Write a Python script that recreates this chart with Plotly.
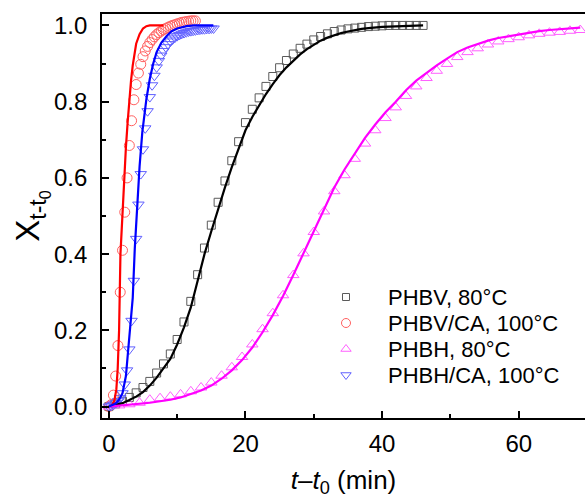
import plotly.graph_objects as go

# ---------------- data ----------------
# PHBV, 80 °C
t_phbv = list(range(0, 47))
x_phbv = [0.000, 0.007, 0.014, 0.024, 0.036, 0.050, 0.066, 0.088, 0.112, 0.138,
          0.176, 0.222, 0.276, 0.346, 0.416, 0.476, 0.536, 0.592, 0.645, 0.695,
          0.745, 0.780, 0.810, 0.840, 0.866, 0.889, 0.908, 0.925, 0.940, 0.951,
          0.962, 0.971, 0.978, 0.984, 0.988, 0.991, 0.993, 0.995, 0.997, 0.998,
          0.999, 1.000, 1.000, 1.000, 1.000, 1.000, 1.000]
fit_phbv = [0.000, 0.004, 0.009, 0.017, 0.026, 0.038, 0.055, 0.076, 0.100, 0.125,
            0.163, 0.208, 0.260, 0.330, 0.400, 0.460, 0.520, 0.575, 0.628, 0.678,
            0.725, 0.760, 0.790, 0.820, 0.846, 0.870, 0.890, 0.908, 0.924, 0.938,
            0.950, 0.960, 0.968, 0.975, 0.980, 0.984, 0.988, 0.991, 0.993, 0.995,
            0.996, 0.997, 0.998, 0.999, 0.999, 1.000, 1.000]

# PHBV/CA, 100 °C
t_phbvca = [0, 0.33, 0.67, 1.0, 1.33, 1.67, 2.0, 2.33, 2.67, 3.0, 3.33, 3.67, 4.0,
            4.33, 4.67, 5.0, 5.33, 5.67, 6.0, 6.33, 6.67, 7.0, 7.33, 7.67, 8.0,
            8.33, 8.67, 9.0, 9.33, 9.67, 10.0, 10.33, 10.67, 11.0, 11.33, 11.67,
            12.0, 12.33, 12.67]
x_phbvca = [0.0, 0.005, 0.03, 0.08, 0.16, 0.30, 0.41, 0.51, 0.60, 0.685, 0.75,
            0.805, 0.845, 0.875, 0.898, 0.918, 0.933, 0.945, 0.955, 0.963, 0.970,
            0.976, 0.981, 0.985, 0.989, 0.992, 0.995, 0.998, 1.000, 1.002, 1.004,
            1.006, 1.008, 1.009, 1.010, 1.011, 1.012, 1.012, 1.012]
tf_phbvca = [0, 0.5, 0.8, 1.1, 1.3, 1.5, 1.7, 1.9, 2.1, 2.3, 2.5, 2.75, 3.0, 3.25,
             3.5, 3.75, 4.0, 4.5, 5.0, 5.5, 6.0, 7.0, 8.0]
fit_phbvca = [0, 0.004, 0.015, 0.045, 0.10, 0.20, 0.40, 0.48, 0.55, 0.615, 0.68,
              0.745, 0.81, 0.855, 0.895, 0.93, 0.952, 0.977, 0.992, 0.998, 1.0,
              1.0, 1.0]

# PHBH, 80 °C
t_phbh = [0, 1.5, 3, 4.5, 6, 7.5, 9, 10.5, 12, 13.5, 15, 16.5, 18, 19.5, 21, 22.5,
          24, 25.5, 27, 28.5, 30, 31.5, 33, 34.5, 36, 37.5, 39, 40.5, 42, 43.5, 45,
          46.5, 48, 49.5, 51, 52.5, 54, 55.5, 57, 58.5, 60, 61.5, 63, 64.5, 66,
          67.5, 69]
x_phbh = [0.000, 0.003, 0.006, 0.010, 0.018, 0.022, 0.026, 0.032, 0.040, 0.050,
          0.063, 0.081, 0.103, 0.130, 0.163, 0.203, 0.245, 0.292, 0.345, 0.402,
          0.458, 0.512, 0.565, 0.607, 0.650, 0.690, 0.725, 0.757, 0.785, 0.815,
          0.840, 0.862, 0.881, 0.899, 0.917, 0.930, 0.940, 0.950, 0.958, 0.964,
          0.969, 0.974, 0.978, 0.981, 0.983, 0.986, 0.988]
fit_phbh = [0.000, 0.002, 0.004, 0.007, 0.010, 0.014, 0.018, 0.024, 0.032, 0.042,
            0.055, 0.073, 0.095, 0.122, 0.155, 0.195, 0.240, 0.290, 0.345, 0.402,
            0.460, 0.518, 0.575, 0.622, 0.665, 0.705, 0.740, 0.772, 0.800, 0.830,
            0.855, 0.876, 0.895, 0.913, 0.930, 0.942, 0.952, 0.960, 0.967, 0.972,
            0.977, 0.981, 0.985, 0.988, 0.990, 0.992, 0.994]

# PHBH/CA, 100 °C
t_phbhca = [0, 0.33, 0.67, 1.0, 1.33, 1.67, 2.0, 2.33, 2.67, 3.0, 3.33, 3.67, 4.0,
            4.33, 4.67, 5.0, 5.33, 5.67, 6.0, 6.33, 6.67, 7.0, 7.33, 7.67, 8.0,
            8.33, 8.67, 9.0, 9.33, 9.67, 10.0, 10.33, 10.67, 11.0, 11.33, 11.67,
            12.0, 12.33, 12.67, 13.0, 13.33, 13.67, 14.0, 14.33, 14.67, 15.0, 15.33]
x_phbhca = [0.0, 0.002, 0.005, 0.009, 0.014, 0.022, 0.035, 0.058, 0.095, 0.15,
            0.225, 0.33, 0.44, 0.53, 0.61, 0.675, 0.73, 0.775, 0.812, 0.843, 0.868,
            0.89, 0.907, 0.921, 0.933, 0.943, 0.951, 0.958, 0.963, 0.968, 0.972,
            0.975, 0.978, 0.980, 0.982, 0.984, 0.985, 0.986, 0.987, 0.988, 0.989,
            0.990, 0.990, 0.991, 0.991, 0.992, 0.992]
tf_phbhca = [0, 0.5, 1.0, 1.5, 2.0, 2.5, 3.0, 3.5, 3.8, 4.2, 4.5, 4.9, 5.5, 6.0,
             6.5, 7.0, 7.7, 8.5, 9.2, 10.0, 11.4, 12.5, 15.3]
fit_phbhca = [0, 0.003, 0.008, 0.018, 0.035, 0.08, 0.175, 0.285, 0.415, 0.546,
              0.63, 0.72, 0.807, 0.86, 0.90, 0.93, 0.955, 0.973, 0.985, 0.992,
              0.998, 1.0, 1.0]

names = ["PHBV, 80°C", "PHBV/CA, 100°C", "PHBH, 80°C", "PHBH/CA, 100°C"]
x_ticks = [0, 20, 40, 60]
y_ticks = [0.0, 0.2, 0.4, 0.6, 0.8, 1.0]

# ---------------- figure ----------------
FONT = "Arial, 'Liberation Sans', sans-serif"
W, H = 585, 498
ML, MR, MT, MB = 102, 0, 14, 80
fig = go.Figure()

series = [
    (t_phbv, x_phbv, t_phbv, fit_phbv, "square-open", 8, "#5a5a5a", "#000000"),
    (t_phbvca, x_phbvca, tf_phbvca, fit_phbvca, "circle-open", 10, "#ff6060", "#ff0000"),
    (t_phbh, x_phbh, t_phbh, fit_phbh, "triangle-up-open", 10, "#ff60ff", "#ff00ff"),
    (t_phbhca, x_phbhca, tf_phbhca, fit_phbhca, "triangle-down-open", 10, "#6060ff", "#0000ff"),
]

for (tm, xm, tf, xf, sym, size, mcol, lcol), name in zip(series, names):
    fig.add_trace(go.Scatter(
        x=tm, y=xm, mode="markers", name=name, showlegend=False,
        marker=dict(symbol=sym, size=size, color=mcol, line=dict(width=1, color=mcol)),
    ))
for (tm, xm, tf, xf, sym, size, mcol, lcol), name in zip(series, names):
    fig.add_trace(go.Scatter(
        x=tf, y=xf, mode="lines", showlegend=False,
        line=dict(color=lcol, width=2.2),
    ))

# custom legend (symbols on an overlay axis in paper-like units, labels as annotations)
pw = W - ML - MR
ph = H - MT - MB
sym_px = 346
txt_px = 386
rows_px = [297, 323, 349, 375]
for (tm, xm, tf, xf, sym, size, mcol, lcol), name, ry in zip(series, names, rows_px):
    fig.add_trace(go.Scatter(
        x=[(sym_px - ML) / pw], y=[(H - MB - ry) / ph], xaxis="x2", yaxis="y2",
        mode="markers", showlegend=False, hoverinfo="skip",
        marker=dict(symbol=sym, size=size - 1, color=mcol, line=dict(width=1, color=mcol)),
    ))
    fig.add_annotation(
        x=(txt_px - ML) / pw, y=(H - MB - ry) / ph, xref="paper", yref="paper",
        text=name, showarrow=False, xanchor="left", yanchor="middle",
        font=dict(size=22, family=FONT, color="black"),
    )

fig.update_layout(
    width=W, height=H,
    margin=dict(l=ML, r=MR, t=MT, b=MB),
    paper_bgcolor="white", plot_bgcolor="white",
    font=dict(family=FONT, color="black"),
    showlegend=False,
    xaxis=dict(
        range=[-1, 69.7], tickvals=x_ticks, ticktext=[str(v) for v in x_ticks],
        showline=True, linecolor="black", linewidth=1.6, mirror=True,
        ticks="inside", ticklen=7, tickwidth=1.5, tickcolor="black",
        minor=dict(dtick=10, tick0=0, ticks="inside", ticklen=4, tickwidth=1.5, tickcolor="black"),
        showgrid=False, zeroline=False,
        tickfont=dict(size=24), ticklabelstandoff=3,
        title=dict(text="<i>t</i>–<i>t</i><sub>0</sub> (min)", font=dict(size=26), standoff=18),
    ),
    yaxis=dict(
        range=[-0.03, 1.03], tickvals=y_ticks, ticktext=[f"{v:.1f}" for v in y_ticks],
        showline=True, linecolor="black", linewidth=1.6, mirror=False,
        ticks="inside", ticklen=7, tickwidth=1.5, tickcolor="black",
        minor=dict(dtick=0.1, tick0=0, ticks="inside", ticklen=4, tickwidth=1.5, tickcolor="black"),
        showgrid=False, zeroline=False,
        tickfont=dict(size=24), ticklabelstandoff=8,
        title=dict(text="X<sub>t-t<sub>0</sub></sub>", font=dict(size=33), standoff=4),
    ),
    xaxis2=dict(overlaying="x", range=[0, 1], visible=False, fixedrange=True),
    yaxis2=dict(overlaying="y", range=[0, 1], visible=False, fixedrange=True),
)

fig.write_html("out.html")
